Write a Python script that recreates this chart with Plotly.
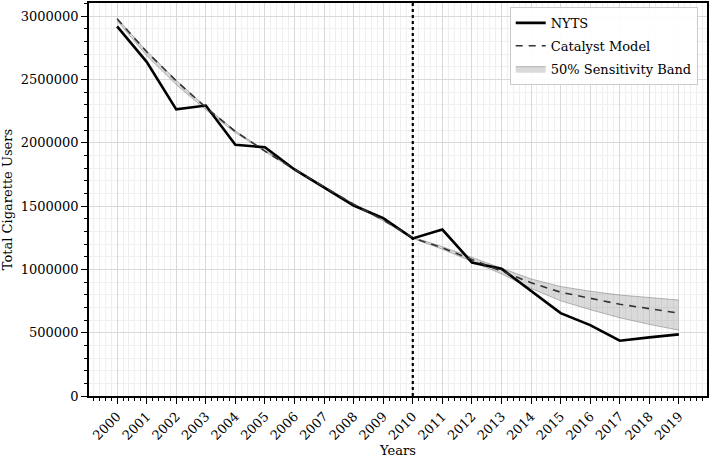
import plotly.graph_objects as go

years = list(range(2000, 2020))
nyts = [2920000, 2640000, 2265000, 2295000, 1985000, 1965000, 1790000, 1645000, 1505000, 1405000,
        1245000, 1315000, 1055000, 1005000, 830000, 655000, 560000, 437000, 463000, 487000]
model = [2980000, 2720000, 2490000, 2280000, 2090000, 1935000, 1790000, 1650000, 1515000, 1390000,
         1250000, 1170000, 1080000, 985000, 895000, 820000, 770000, 725000, 690000, 655000]
band_upper = [2985000, 2725000, 2495000, 2285000, 2095000, 1940000, 1795000, 1655000, 1520000, 1395000,
              1255000, 1180000, 1095000, 1005000, 925000, 865000, 828000, 798000, 776000, 758000]
band_lower = [2965000, 2690000, 2460000, 2262000, 2080000, 1928000, 1783000, 1643000, 1508000, 1383000,
              1245000, 1160000, 1065000, 965000, 850000, 752000, 682000, 618000, 566000, 520000]
tick_labels = [str(y) for y in years]
intervention_year = 2010

FONT = "DejaVu Serif"

fig = go.Figure()
fig.add_trace(go.Scatter(x=years, y=band_lower, mode="lines",
                         line=dict(color="rgba(110,110,110,0.6)", width=0.8),
                         showlegend=False, hoverinfo="skip", legendgroup="band"))
fig.add_trace(go.Scatter(x=years, y=band_upper, mode="lines", fill="tonexty",
                         fillcolor="rgba(150,150,150,0.35)",
                         line=dict(color="rgba(110,110,110,0.6)", width=0.8),
                         name="50% Sensitivity Band", legendrank=3, legendgroup="band"))
fig.add_trace(go.Scatter(x=years, y=nyts, mode="lines", name="NYTS",
                         line=dict(color="black", width=2.6), legendrank=1, legendgroup="nyts"))
fig.add_trace(go.Scatter(x=years, y=model, mode="lines", name="Catalyst Model",
                         line=dict(color="#333333", width=1.6, dash="7px,6px"), legendrank=2,
                         legendgroup="model"))

fig.add_vline(x=intervention_year, line=dict(color="black", width=2.2, dash="dot"))

axis_common = dict(
    showline=True, linecolor="black", linewidth=1.5, mirror=True,
    ticks="outside", tickcolor="black", ticklen=6, tickwidth=1.2,
    showgrid=True, gridcolor="#d9d9d9", gridwidth=1,
    tickfont=dict(family=FONT, size=13, color="black"),
    zeroline=False, automargin=False,
)

fig.update_xaxes(
    **axis_common,
    range=[1999.05, 2019.95],
    tickmode="array", tickvals=years, ticktext=tick_labels, tickangle=-45,
    minor=dict(dtick=0.2, tick0=2000, ticks="outside", ticklen=3, tickcolor="black",
               showgrid=True, gridcolor="#efefef", gridwidth=1),
    title=dict(text="Years", font=dict(family=FONT, size=13, color="black"), standoff=4),
)
fig.update_yaxes(
    **axis_common,
    range=[0, 3105000],
    tickmode="linear", tick0=0, dtick=500000, tickformat="d",
    minor=dict(dtick=100000, ticks="outside", ticklen=3, tickcolor="black",
               showgrid=True, gridcolor="#efefef", gridwidth=1),
    title=dict(text="Total Cigarette Users", font=dict(family=FONT, size=13, color="black"), standoff=6),
)

fig.update_layout(
    width=709, height=459,
    margin=dict(l=89, r=2, t=3, b=63),
    paper_bgcolor="white", plot_bgcolor="white",
    font=dict(family=FONT, size=13, color="black"),
    legend=dict(x=0.985, y=0.99, xanchor="right", yanchor="top", traceorder="grouped",
                bgcolor="rgba(255,255,255,0.9)", bordercolor="#cccccc", borderwidth=1,
                font=dict(family=FONT, size=13, color="black"), tracegroupgap=3),
    showlegend=True,
)

fig.write_html("out.html", config={"displayModeBar": False},
               post_script="document.body.style.margin='0';document.body.style.padding='0';")
